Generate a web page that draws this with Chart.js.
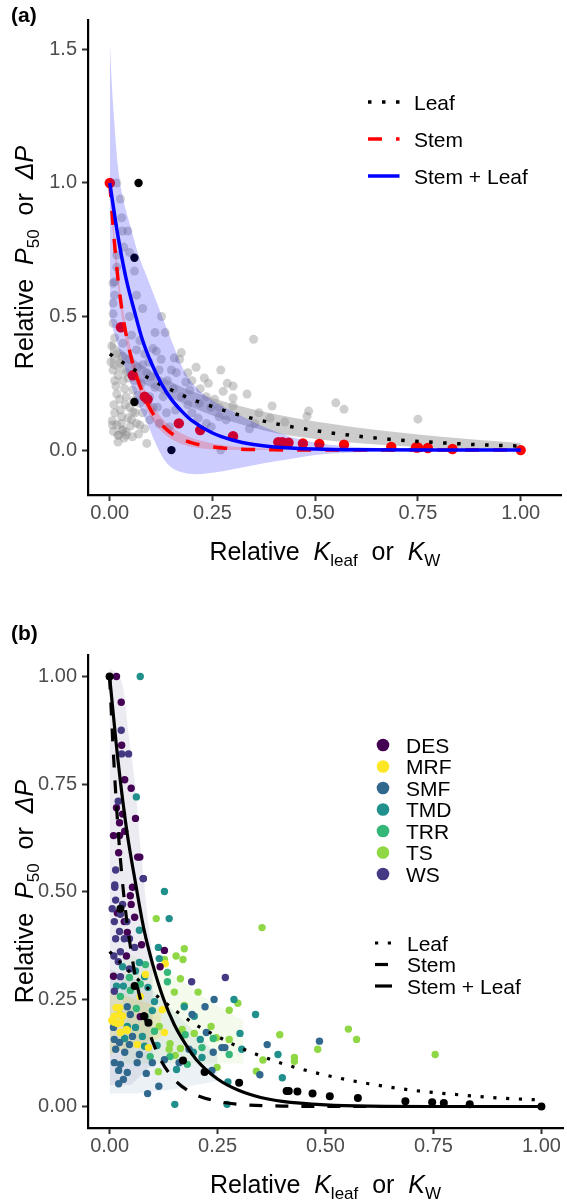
<!DOCTYPE html>
<html lang="en">
<head>
<meta charset="UTF-8">
<title>Relative P50 vs relative Kleaf</title>
<script src="https://cdn.jsdelivr.net/npm/chart.js"></script>
<style>
  html, body { margin: 0; padding: 0; background: #fff; }
  .panel { position: absolute; left: 0; width: 567px; height: 600px; }
  #panelA { top: 0; }
  #panelB { top: 600px; }
</style>
</head>
<body>
<div class="panel" id="panelA"><canvas id="chartA" width="567" height="600"></canvas></div>
<div class="panel" id="panelB"><canvas id="chartB" width="567" height="600"></canvas></div>

<script>
// ---------- panel (a) ----------
const xTicks = [0, 0.25, 0.5, 0.75, 1];
const yTicksA = [0, 0.5, 1, 1.5];
const yTicksB = [0, 0.25, 0.5, 0.75, 1];

// fitted curves
const leafX = [0, 0.05, 0.1, 0.15, 0.2, 0.25, 0.3, 0.4, 0.5, 0.6, 0.7, 0.8, 0.9, 1.0];
const leafY = [0.36, 0.31, 0.265, 0.225, 0.19, 0.163, 0.138, 0.10, 0.073, 0.053, 0.038, 0.028, 0.02, 0.015];
const leafLo = [0.31, 0.275, 0.235, 0.195, 0.16, 0.13, 0.105, 0.065, 0.042, 0.027, 0.016, 0.008, 0.003, 0.0];
const leafHi = [0.41, 0.35, 0.295, 0.255, 0.22, 0.195, 0.172, 0.135, 0.107, 0.085, 0.067, 0.051, 0.038, 0.027];

const stemX = [0, 0.01, 0.02, 0.03, 0.04, 0.05, 0.06, 0.07, 0.08, 0.09, 0.1, 0.12, 0.14, 0.16, 0.18, 0.2, 0.25, 0.3, 0.4, 0.5, 0.75, 1.0];
const stemY = [1.0, 0.80, 0.64, 0.52, 0.43, 0.36, 0.30, 0.255, 0.215, 0.18, 0.15, 0.105, 0.075, 0.053, 0.038, 0.027, 0.012, 0.005, 0.001, 0, 0, 0];
const stemLo = [0.97, 0.77, 0.61, 0.49, 0.40, 0.33, 0.27, 0.225, 0.185, 0.15, 0.122, 0.08, 0.052, 0.033, 0.02, 0.012, 0.003, 0, 0, 0, 0, 0];
const stemHi = [1.03, 0.83, 0.67, 0.55, 0.46, 0.39, 0.33, 0.285, 0.245, 0.21, 0.18, 0.132, 0.1, 0.075, 0.058, 0.045, 0.025, 0.014, 0.005, 0.002, 0, 0];

const slX = [0, 0.02, 0.04, 0.06, 0.08, 0.1, 0.125, 0.15, 0.175, 0.2, 0.25, 0.3, 0.35, 0.4, 0.5, 0.6, 0.8, 1.0];
const slY = [1.0, 0.80, 0.64, 0.52, 0.41, 0.33, 0.25, 0.19, 0.146, 0.11, 0.064, 0.037, 0.021, 0.012, 0.004, 0.001, 0, 0];
const slRibX = [0, 0.005, 0.01, 0.02, 0.03, 0.05, 0.07, 0.09, 0.11, 0.13, 0.15, 0.18, 0.21, 0.25, 0.3, 0.35, 0.4, 0.45, 0.5, 0.6, 0.7, 0.8, 1.0];
const slRibHi = [1.53, 1.37, 1.25, 1.06, 0.96, 0.84, 0.73, 0.65, 0.57, 0.49, 0.41, 0.30, 0.235, 0.185, 0.145, 0.105, 0.072, 0.045, 0.028, 0.012, 0.006, 0.003, 0.001];
const slRibLo = [0.50, 0.47, 0.44, 0.39, 0.34, 0.25, 0.17, 0.105, 0.03, -0.03, -0.065, -0.085, -0.09, -0.085, -0.072, -0.057, -0.043, -0.03, -0.018, -0.008, -0.003, -0.001, 0];

// observations
const greyPtsA = [
  [0.017,1.0],[0.026,0.94],[0.029,0.87],[0.031,0.82],[0.044,0.82],[0.034,0.76],[0.048,0.74],[0.017,0.73],
  [0.06,0.67],[0.017,0.685],[0.012,0.63],[0.065,0.58],[0.008,0.625],[0.012,0.58],[0.008,0.55],[0.008,0.51],
  [0.08,0.53],[0.048,0.50],[0.126,0.50],
  [0.11,0.44],[0.135,0.44],[0.113,0.37],[0.125,0.34],[0.157,0.345],[0.174,0.365],[0.17,0.34],[0.162,0.29],
  [0.19,0.29],[0.20,0.26],[0.22,0.23],[0.195,0.225],[0.235,0.20],[0.218,0.175],[0.246,0.16],[0.266,0.16],
  [0.266,0.125],[0.283,0.113],[0.235,0.10],[0.247,0.087],[0.27,0.0],[0.09,0.025],[0.145,0.087],[0.12,0.10],
  [0.138,0.14],[0.116,0.16],[0.097,0.20],
  [0.35,0.415],[0.27,0.30],[0.286,0.25],[0.30,0.24],[0.276,0.22],[0.24,0.25],[0.334,0.21],[0.30,0.195],
  [0.30,0.165],[0.395,0.165],[0.363,0.14],[0.484,0.146],[0.48,0.127],[0.55,0.177],[0.57,0.153],[0.75,0.116],
  [0.426,0.105],[0.39,0.12],[0.353,0.10],[0.34,0.08],
  [0.008,0.475],[0.012,0.42],[0.005,0.39],[0.017,0.36],[0.008,0.30],[0.024,0.325],[0.012,0.26],[0.032,0.26],
  [0.017,0.21],[0.04,0.20],[0.024,0.19],[0.012,0.14],[0.029,0.125],[0.017,0.095],[0.032,0.075],[0.022,0.056],
  [0.04,0.068],[0.053,0.113],[0.065,0.10],[0.048,0.16],[0.068,0.205],[0.056,0.225],[0.077,0.25],[0.09,0.29],
  [0.04,0.29],[0.068,0.31],[0.048,0.34],[0.065,0.375],[0.032,0.40],[0.053,0.43],[0.073,0.41],[0.085,0.36],
  [0.10,0.275],[0.11,0.235],[0.097,0.113],[0.08,0.14],[0.073,0.175],[0.056,0.143],
  [0.003,0.33],[0.02,0.28],[0.036,0.23],[0.01,0.17],[0.026,0.15],[0.044,0.12],[0.006,0.11],[0.03,0.35],
  [0.045,0.27],[0.06,0.26],[0.015,0.24],[0.028,0.10],[0.05,0.09],[0.062,0.14],[0.035,0.045],[0.02,0.03],
  [0.055,0.05],[0.07,0.06],[0.085,0.08],[0.009,0.07],[0.038,0.17],[0.058,0.185],[0.08,0.32],[0.095,0.33],
  [0.105,0.38],[0.12,0.3],[0.14,0.26],[0.155,0.23],[0.175,0.2],[0.19,0.17],[0.2,0.14],[0.215,0.12],
  [0.16,0.15],[0.13,0.2],[0.105,0.16],[0.15,0.3],[0.185,0.255],[0.23,0.27],[0.255,0.19],[0.21,0.31],
  [0.007,0.094],[0.02,0.056],[0.03,0.075],[0.04,0.056],[0.073,0.094]
];
const redPtsA = [
  [0,1.0],[0.027,0.46],[0.056,0.28],[0.085,0.20],[0.092,0.19],[0.168,0.10],[0.22,0.075],[0.30,0.052],
  [0.41,0.03],[0.42,0.03],[0.435,0.028],[0.47,0.025],[0.51,0.023],[0.57,0.02],[0.685,0.012],[0.745,0.01],
  [0.75,0.01],[0.774,0.008],[0.834,0.004],[1.0,0]
];
const blackPtsA = [[0.07,1.0],[0.06,0.72],[0.06,0.18],[0.15,0.0]];

// ---------- panel (b) ----------
const groupNames = ['DES', 'MRF', 'SMF', 'TMD', 'TRR', 'TS', 'WS'];
const groupColours = ['#440154', '#FDE725', '#31688E', '#21908C', '#35B779', '#8FD744', '#443A83'];

const ptsDES = [[0.016,1.0],[0.027,0.94],[0.028,0.84],[0.035,0.76],[0.05,0.74],[0.016,0.695],[0.03,0.68],[0.06,0.67],
  [0.023,0.66],[0.035,0.64],[0.009,0.63],[0.023,0.63],[0.021,0.59],[0.065,0.58],[0.07,0.58],[0.053,0.51],[0.078,0.53],
  [0.048,0.49],[0.018,0.45],[0.034,0.43],[0.041,0.405],[0.074,0.376],[0.127,0.363],[0.039,0.35],[0.117,0.325],
  [0.009,0.303],[0.071,0.209],[0.05,0.47],[0.058,0.44]];
const ptsMRF = [[0.129,0.332],[0.083,0.307],[0.071,0.256],[0.023,0.23],[0.011,0.21],[0.122,0.225],[0.018,0.193],
  [0.025,0.195],[0.025,0.172],[0.039,0.179],[0.127,0.172],[0.064,0.144],[0.015,0.23],[0.023,0.214],[0.011,0.196],
  [0.041,0.177],[0.09,0.137],[0.005,0.2],[0.03,0.21]];
const ptsSMF = [[0.242,0.249],[0.041,0.232],[0.221,0.232],[0.191,0.214],[0.048,0.214],[0.009,0.184],[0.053,0.163],
  [0.224,0.172],[0.365,0.144],[0.011,0.156],[0.023,0.149],[0.046,0.144],[0.184,0.133],[0.24,0.126],[0.26,0.137],
  [0.267,0.137],[0.014,0.133],[0.035,0.126],[0.069,0.121],[0.099,0.102],[0.127,0.109],[0.161,0.102],[0.237,0.084],
  [0.486,0.152],[0.348,0.074],[0.011,0.102],[0.025,0.098],[0.021,0.084],[0.041,0.079],[0.064,0.102],[0.085,0.077],
  [0.032,0.063],[0.021,0.053],[0.114,0.047],[0.088,0.03]];
const ptsTMD = [[0.071,1.0],[0.062,0.72],[0.127,0.50],[0.138,0.437],[0.069,0.41],[0.113,0.37],[0.115,0.344],[0.069,0.335],
  [0.03,0.325],[0.06,0.315],[0.081,0.302],[0.016,0.28],[0.032,0.28],[0.089,0.277],[0.288,0.249],[0.104,0.244],
  [0.173,0.232],[0.338,0.214],[0.196,0.21],[0.099,0.223],[0.041,0.186],[0.06,0.184],[0.076,0.163],[0.21,0.156],
  [0.302,0.17],[0.035,0.158],[0.081,0.14],[0.194,0.126],[0.306,0.133],[0.11,0.142],[0.214,0.114],[0.39,0.121],
  [0.40,0.067],[0.274,0.057],[0.272,0.005],[0.151,0.005],[0.155,0.086]];
const ptsTRR = [[0.083,0.33],[0.134,0.312],[0.046,0.30],[0.071,0.285],[0.134,0.29],[0.048,0.27],[0.025,0.256],
  [0.062,0.228],[0.023,0.214],[0.083,0.209],[0.104,0.175],[0.175,0.167],[0.24,0.158],[0.214,0.137],[0.277,0.121],
  [0.094,0.116],[0.14,0.116],[0.18,0.098]];
const ptsTS = [[0.108,0.437],[0.173,0.367],[0.154,0.35],[0.17,0.342],[0.127,0.342],[0.164,0.297],[0.15,0.266],
  [0.205,0.266],[0.297,0.24],[0.173,0.235],[0.277,0.224],[0.394,0.167],[0.115,0.186],[0.168,0.179],[0.196,0.17],
  [0.235,0.186],[0.247,0.16],[0.277,0.156],[0.14,0.146],[0.138,0.133],[0.164,0.135],[0.152,0.119],[0.249,0.091],
  [0.355,0.108],[0.428,0.114],[0.428,0.105],[0.482,0.133],[0.34,0.082],[0.113,0.081],[0.353,0.416],[0.553,0.18],
  [0.572,0.156],[0.754,0.121]];
const ptsWS = [[0.027,0.875],[0.028,0.82],[0.044,0.82],[0.02,0.71],[0.014,0.55],[0.078,0.53],[0.012,0.51],[0.012,0.515],
  [0.014,0.48],[0.03,0.47],[0.025,0.447],[0.011,0.43],[0.023,0.407],[0.014,0.39],[0.034,0.39],[0.046,0.39],
  [0.058,0.37],[0.025,0.36],[0.01,0.35],[0.02,0.337],[0.046,0.32],[0.025,0.302],[0.19,0.29],[0.011,0.268],
  [0.268,0.30],[0.04,0.43],[0.006,0.46]];
const groupPoints = [ptsDES, ptsMRF, ptsSMF, ptsTMD, ptsTRR, ptsTS, ptsWS];

const blackPtsB = [[0,1.0],[0.025,0.46],[0.058,0.28],[0.08,0.21],[0.09,0.195],[0.17,0.107],[0.22,0.08],[0.30,0.055],
  [0.41,0.036],[0.415,0.036],[0.435,0.035],[0.47,0.03],[0.51,0.024],[0.575,0.02],[0.685,0.012],[0.747,0.01],
  [0.774,0.008],[0.834,0.005],[1.0,0]];

// faint group ribbons in (b)
const ribWsX = [0, 0.03, 0.045, 0.06, 0.07, 0.08, 0.09, 0.1];
const ribWsHi = [1.02, 0.98, 0.86, 0.74, 0.62, 0.52, 0.42, 0.35];
const ribWsLo = [0.05, 0.05, 0.05, 0.06, 0.07, 0.08, 0.09, 0.1];
const ribSmfX = [0, 0.05, 0.1, 0.15, 0.2, 0.25];
const ribSmfHi = [0.32, 0.30, 0.27, 0.22, 0.17, 0.12];
const ribSmfLo = [0.03, 0.03, 0.035, 0.04, 0.05, 0.06];
const ribMrfX = [0, 0.03, 0.06, 0.09, 0.12];
const ribMrfHi = [0.27, 0.26, 0.25, 0.24, 0.22];
const ribMrfLo = [0.12, 0.13, 0.14, 0.15, 0.16];
const ribTsX = [0.03, 0.1, 0.17, 0.24, 0.31];
const ribTsHi = [0.36, 0.33, 0.29, 0.24, 0.2];
const ribTsLo = [0.1, 0.1, 0.1, 0.1, 0.1];

const lineLegend = ['Leaf', 'Stem', 'Stem + Leaf'];

// ---------- helpers ----------
const FONT = '"Liberation Sans", Arial, sans-serif';
Chart.defaults.font.family = FONT;

function xy(xs, ys) { return xs.map((x, i) => ({ x: x, y: ys[i] })); }
function pts(arr) { return arr.map(p => ({ x: p[0], y: p[1] })); }

function curve(data, colour, width, dash, order) {
  return { data: data, borderColor: colour, borderWidth: width, borderDash: dash, borderCapStyle: 'butt',
    pointRadius: 0, fill: false, cubicInterpolationMode: 'monotone', order: order };
}
function band(data, colour, order, fillTo) {
  return { data: data, borderWidth: 0, borderColor: 'rgba(0,0,0,0)', backgroundColor: colour, pointRadius: 0,
    fill: fillTo, cubicInterpolationMode: 'monotone', order: order };
}
function dots(data, colour, r, order) {
  return { data: data, showLine: false, pointRadius: r, pointHoverRadius: r, pointBackgroundColor: colour,
    pointBorderWidth: 0, borderColor: colour, order: order };
}

const xTitle = [{ t: 'Relative  ' }, { t: 'K', it: 1 }, { t: 'leaf', sub: 1 }, { t: '  or  ' }, { t: 'K', it: 1 }, { t: 'W', sub: 1 }];
const yTitle = [{ t: 'Relative  ' }, { t: 'P', it: 1 }, { t: '50', sub: 1 }, { t: '  or  ' }, { t: 'ΔP', it: 1 }];

function richRun(ctx, parts, size, x0, y0, draw) {
  let x = x0;
  parts.forEach(p => {
    const fs = p.sub ? Math.round(size * 0.68) : size;
    ctx.font = (p.it ? 'italic ' : '') + fs + 'px ' + FONT;
    if (draw) ctx.fillText(p.t, x, y0 + (p.sub ? size * 0.22 : 0));
    x += ctx.measureText(p.t).width;
  });
  return x - x0;
}

function lineKey(ctx, x1, x2, y, colour, width, dash) {
  ctx.save();
  ctx.strokeStyle = colour;
  ctx.lineWidth = width;
  ctx.lineCap = 'butt';
  ctx.setLineDash(dash);
  ctx.beginPath();
  ctx.moveTo(x1, y);
  ctx.lineTo(x2, y);
  ctx.stroke();
  ctx.restore();
}

const decor = {
  id: 'decor',
  afterDraw(chart, args, opts) {
    const ctx = chart.ctx;
    const a = chart.chartArea;
    ctx.save();
    ctx.fillStyle = '#000';
    ctx.textAlign = 'left';
    ctx.textBaseline = 'alphabetic';

    ctx.font = 'bold 21px ' + FONT;
    ctx.fillText(opts.label, 11, opts.labelY);

    const size = 25;
    const xw = richRun(ctx, xTitle, size, 0, 0, false);
    richRun(ctx, xTitle, size, (a.left + a.right) / 2 - xw / 2, a.bottom + 65, true);

    ctx.save();
    ctx.translate(33, (a.top + a.bottom) / 2);
    ctx.rotate(-Math.PI / 2);
    const yw = richRun(ctx, yTitle, size, 0, 0, false);
    richRun(ctx, yTitle, size, -yw / 2, 0, true);
    ctx.restore();

    ctx.font = '21px ' + FONT;
    if (opts.panel === 'a') {
      const rows = [102, 139, 176];
      lineKey(ctx, 368, 399.5, rows[0], '#000', 3.5, [3.5, 10.5]);
      lineKey(ctx, 368, 399.5, rows[1], '#ff0000', 3.5, [14, 14]);
      lineKey(ctx, 368, 399.5, rows[2], '#0000ff', 3.5, []);
      lineLegend.forEach((t, i) => ctx.fillText(t, 414, rows[i] + 7.5));
    } else {
      groupNames.forEach((g, i) => {
        const y = 145 + i * 21.5;
        ctx.fillStyle = groupColours[i];
        ctx.beginPath();
        ctx.arc(383, y, 6.3, 0, Math.PI * 2);
        ctx.fill();
        ctx.fillStyle = '#000';
        ctx.fillText(g, 406, y + 7.5);
      });
      const rows = [343, 364.5, 386];
      lineKey(ctx, 375, 392, rows[0], '#000', 3.2, [3.2, 9.6]);
      lineKey(ctx, 375, 392, rows[1], '#000', 3.2, [13, 13]);
      lineKey(ctx, 375, 392, rows[2], '#000', 3.2, []);
      lineLegend.forEach((t, i) => ctx.fillText(t, 407, rows[i] + 7.5));
    }
    ctx.restore();
  }
};

function axes(xmin, xmax, ymin, ymax, yTicks, yDigits, xHeight) {
  const tickFont = { family: FONT, size: 20 };
  return {
    x: {
      type: 'linear', min: xmin, max: xmax,
      afterBuildTicks: s => { s.ticks = xTicks.map(v => ({ value: v })); },
      afterFit: s => { s.height = xHeight; },
      ticks: { callback: v => Number(v).toFixed(2), font: tickFont, color: '#4d4d4d', padding: 0, autoSkip: false, maxRotation: 0 },
      grid: { drawOnChartArea: false, drawTicks: true, tickLength: 6, tickWidth: 2, tickColor: '#333' },
      border: { display: true, color: '#000', width: 2.2 }
    },
    y: {
      type: 'linear', min: ymin, max: ymax,
      afterBuildTicks: s => { s.ticks = yTicks.map(v => ({ value: v })); },
      afterFit: s => { s.width = 88; },
      ticks: { callback: v => Number(v).toFixed(yDigits), font: tickFont, color: '#4d4d4d', padding: 5, autoSkip: false },
      grid: { drawOnChartArea: false, drawTicks: true, tickLength: 6, tickWidth: 2, tickColor: '#333' },
      border: { display: true, color: '#000', width: 2.2 }
    }
  };
}

const common = {
  responsive: false,
  animation: false,
  events: [],
  plugins: { legend: { display: false }, tooltip: { enabled: false } }
};

// ---------- chart (a) ----------
new Chart(document.getElementById('chartA'), {
  type: 'line',
  data: {
    datasets: [
      curve(xy(slX, slY), '#0000ff', 3.5, [], 0),
      curve(xy(leafX, leafY), '#000000', 3.5, [3.5, 10.5], 1),
      curve(xy(stemX, stemY), '#ff0000', 3.5, [14, 14], 2),
      band(xy(stemX, stemHi), 'rgba(255,0,0,0.2)', 3, '+1'),
      band(xy(stemX, stemLo), 'rgba(0,0,0,0)', 3, false),
      band(xy(slRibX, slRibHi), 'rgba(0,0,255,0.2)', 4, '+1'),
      band(xy(slRibX, slRibLo), 'rgba(0,0,0,0)', 4, false),
      dots(pts(redPtsA), '#ff0000', 5.2, 5),
      dots(pts(blackPtsA), '#000000', 4.2, 6),
      band(xy(leafX, leafHi), 'rgba(153,153,153,0.5)', 7, '+1'),
      band(xy(leafX, leafLo), 'rgba(0,0,0,0)', 7, false),
      dots(pts(greyPtsA), 'rgba(140,140,140,0.42)', 4.5, 8)
    ]
  },
  options: Object.assign({}, common, {
    layout: { padding: { top: 20, right: 2, left: 0, bottom: 0 } },
    scales: axes(-0.053, 1.10, -0.168, 1.61, yTicksA, 1, 105),
    plugins: Object.assign({}, common.plugins, { decor: { panel: 'a', label: '(a)', labelY: 22 } })
  }),
  plugins: [decor]
});

// ---------- chart (b) ----------
const groupDrawOrder = [6, 0, 1, 2, 3, 4, 5]; // WS, DES on top
const datasetsB = [
  dots(pts(blackPtsB), '#000000', 4, 0),
  curve(xy(slX, slY), '#000000', 3.2, [], 1),
  curve(xy(stemX, stemY), '#000000', 3.2, [13, 13], 2),
  curve(xy(leafX, leafY), '#000000', 3.2, [3.2, 9.6], 3)
];
groupDrawOrder.forEach((g, k) => {
  datasetsB.push(dots(pts(groupPoints[g]), groupColours[g], 3.7, 10 + k));
});
datasetsB.push(
  band(xy(ribWsX, ribWsHi), 'rgba(68,58,131,0.10)', 30, '+1'),
  band(xy(ribWsX, ribWsLo), 'rgba(0,0,0,0)', 30, false),
  band(xy(ribSmfX, ribSmfHi), 'rgba(49,104,142,0.09)', 31, '+1'),
  band(xy(ribSmfX, ribSmfLo), 'rgba(0,0,0,0)', 31, false),
  band(xy(ribMrfX, ribMrfHi), 'rgba(253,231,37,0.22)', 32, '+1'),
  band(xy(ribMrfX, ribMrfLo), 'rgba(0,0,0,0)', 32, false),
  band(xy(ribTsX, ribTsHi), 'rgba(143,215,68,0.10)', 33, '+1'),
  band(xy(ribTsX, ribTsLo), 'rgba(0,0,0,0)', 33, false)
);

new Chart(document.getElementById('chartB'), {
  type: 'line',
  data: { datasets: datasetsB },
  options: Object.assign({}, common, {
    layout: { padding: { top: 55, right: 3, left: 0, bottom: 0 } },
    scales: axes(-0.05, 1.05, -0.05, 1.05, yTicksB, 2, 72),
    plugins: Object.assign({}, common.plugins, { decor: { panel: 'b', label: '(b)', labelY: 40 } })
  }),
  plugins: [decor]
});
</script>
</body>
</html>
